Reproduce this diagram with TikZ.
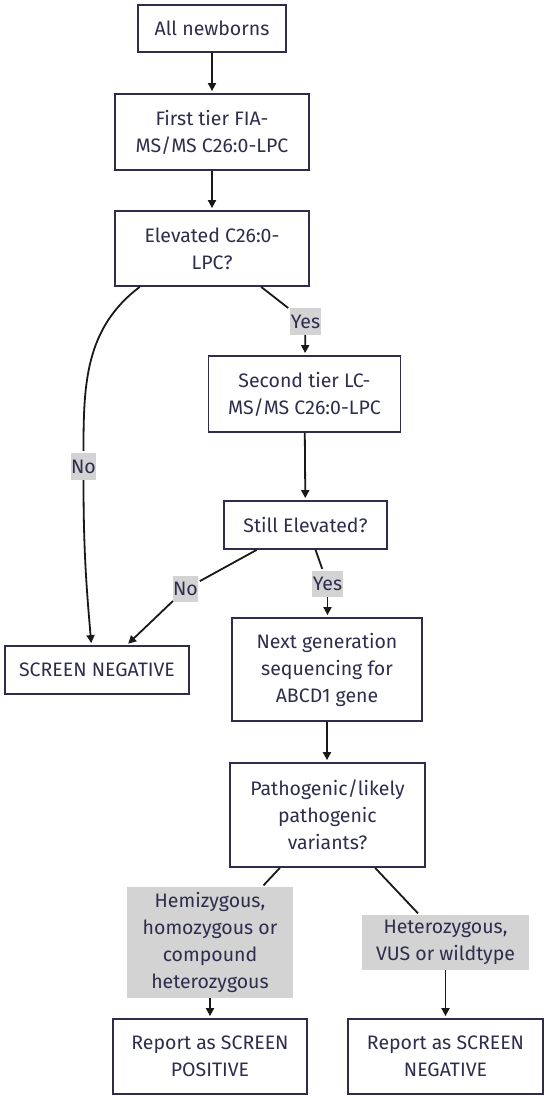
\documentclass[tikz,border=0pt]{standalone}
\usepackage{fontspec}
\setmainfont{Fira Sans}
\usepackage{xcolor}
\usetikzlibrary{arrows.meta,positioning,calc}
\definecolor{BoxNavy}{HTML}{2D2D4D}
\definecolor{LabelGrey}{HTML}{D3D3D3}

\begin{document}
\begin{tikzpicture}[x=1pt,y=1pt,>={Triangle[length=8pt,width=8pt]},
 box/.style={draw=BoxNavy,line width=1.8pt,fill=white,text=BoxNavy,align=center,
             inner sep=0pt,font=\fontsize{19.5}{27}\selectfont},
 lbl/.style={fill=LabelGrey,text=BoxNavy,align=center,inner sep=0pt,
             font=\fontsize{19.5}{27}\selectfont},
 flow/.style={line width=1.8pt,draw=black!90,shorten >=2pt}]
\useasboundingbox (0,0) rectangle (550,-1101);
\node[box,minimum width=148pt,minimum height=47pt] (all) at (212,-28.5) {All newborns};
\node[box,minimum width=194pt,minimum height=76pt] (fia) at (212,-132) {First tier FIA-\\MS/MS C26:0-LPC};
\node[box,minimum width=194pt,minimum height=75pt] (elev) at (212,-248.5) {Elevated C26:0-\\LPC?};
\node[box,minimum width=192pt,minimum height=76pt] (lcms) at (304.5,-394) {Second tier LC-\\MS/MS C26:0-LPC};
\node[box,minimum width=163pt,minimum height=48pt] (still) at (305.5,-525) {Still Elevated?};
\node[box,minimum width=184pt,minimum height=48pt] (sneg) at (97,-670) {SCREEN NEGATIVE};
\node[box,minimum width=190pt,minimum height=103pt] (ngs) at (327,-669.5) {Next generation\\sequencing for\\ABCD1 gene};
\node[box,minimum width=195pt,minimum height=104pt] (patho) at (327.5,-815) {Pathogenic/likely\\pathogenic\\variants?};
\node[box,minimum width=194pt,minimum height=75pt] (rpos) at (210,-1056.5) {Report as SCREEN\\POSITIVE};
\node[box,minimum width=195pt,minimum height=75pt] (rneg) at (445.5,-1056.5) {Report as SCREEN\\NEGATIVE};
\node[lbl,minimum width=31pt,minimum height=27pt] (yes1) at (305.5,-321.5) {Yes};
\node[lbl,minimum width=23pt,minimum height=27pt] (no1) at (83.5,-466.5) {No};
\node[lbl,minimum width=23pt,minimum height=26pt] (no2) at (185.5,-589) {No};
\node[lbl,minimum width=31pt,minimum height=26pt] (yes2) at (327.5,-584) {Yes};
\node[lbl,minimum width=166pt,minimum height=111pt] (hemi) at (210,-942.5) {Hemizygous,\\homozygous or\\compound\\heterozygous};
\node[lbl,minimum width=167pt,minimum height=55pt] (het) at (445.5,-942.5) {Heterozygous,\\VUS or wildtype};
\draw[->,flow] (all) -- (fia);
\draw[->,flow] (fia) -- (elev);
\draw[flow] (elev.208.5) to[out=-143,in=90] (no1);
\draw[->,flow] (no1) to[out=-90,in=95] ($(sneg.north west)!0.47!(sneg.north east)$);
\draw[flow] (elev.-38) -- (yes1);
\draw[->,flow] (yes1) -- (lcms);
\draw[->,flow] (lcms) -- (still);
\draw[flow] (still.207) -- (no2);
\draw[->,flow] (no2) -- ($(sneg.north west)!0.66!(sneg.north east)$);
\draw[flow] (still.-68) -- (yes2);
\draw[->,flow] (yes2) -- (yes2 |- ngs.north);
\draw[->,flow] (ngs) -- (ngs |- patho.north);
\draw[flow] (patho.228) -- (hemi);
\draw[->,flow] (hemi) -- (rpos);
\draw[flow] (patho.-48) -- (het);
\draw[->,flow] (het) -- (rneg);
\end{tikzpicture}
\end{document}
